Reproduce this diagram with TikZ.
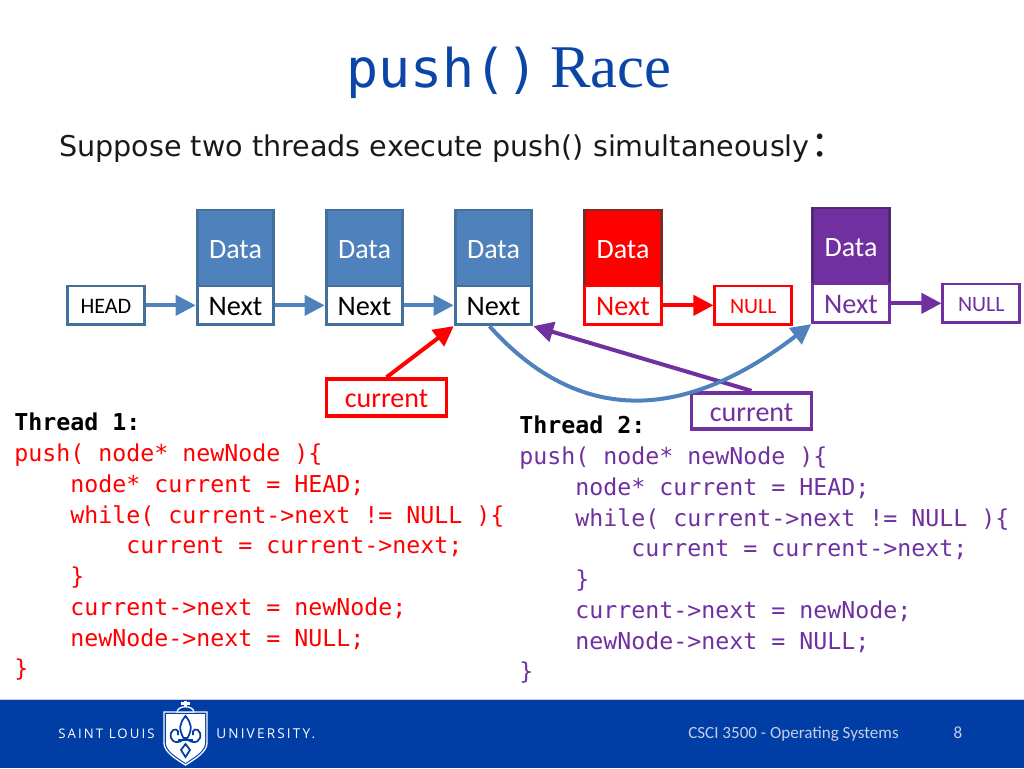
\documentclass[tikz,border=0pt]{standalone}
\usepackage{xcolor}
\usepackage{fontspec}
\usetikzlibrary{arrows.meta,positioning}
\setmainfont{Carlito}
\newfontfamily\codefont{DejaVu Sans Mono}
\newfontfamily\subfont{DejaVu Sans}
\newfontfamily\racefont{Liberation Serif}
\newfontfamily\logofont[LetterSpace=16]{Open Sans}
\definecolor{sluband}{HTML}{003DA5}
\definecolor{slutitle}{HTML}{0B46A6}
\definecolor{nodeblue}{HTML}{4F81BD}
\definecolor{edgeblue}{HTML}{41719C}
\definecolor{edgered}{HTML}{7A2A28}
\definecolor{nodepurple}{HTML}{7030A0}
\definecolor{edgepurple}{HTML}{4F2A78}
\definecolor{footgrey}{HTML}{C4CEE6}
\newcommand{\tab}{\hspace*{42pt}}
\tikzset{
  px/.style={x=0.75pt,y=-0.75pt},
  databox/.style={draw=#1,line width=2.2pt,outer sep=1.1pt,minimum width=57.5pt,minimum height=57pt,
    inner sep=0pt,text=white,text height=15.5pt,text depth=0pt,font=\fontsize{21}{23}\selectfont},
  nextbox/.style={draw=#1,fill=white,line width=2.2pt,outer sep=1.1pt,minimum width=57.5pt,minimum height=29pt,
    inner sep=0pt,text height=15.5pt,text depth=0pt,font=\fontsize{21.2}{23}\selectfont},
  nullbox/.style={draw=#1,fill=white,line width=2.2pt,outer sep=1.1pt,minimum width=57.5pt,minimum height=29pt,
    inner sep=0pt,text=#1,text height=12pt,text depth=0pt,font=\fontsize{16.4}{18}\selectfont},
  curbox/.style={draw=#1,fill=white,line width=2.8pt,outer sep=1.4pt,minimum width=90pt,minimum height=27.5pt,
    inner sep=0pt,text=#1,text height=15.5pt,text depth=0pt,font=\fontsize{21}{23}\selectfont},
  link/.style={draw=#1,line width=3pt,-{Triangle[length=15pt,width=15pt]}},
  code/.style={anchor=north west,inner sep=0pt,align=left,text=#1,
    font=\codefont\fontsize{17.45}{23.05}\selectfont},
}
\begin{document}
\begin{tikzpicture}[px]
  \useasboundingbox (0,0) rectangle (1024,768);
  \node[anchor=base west,inner sep=0pt,text=slutitle] (title) at (346,87)
    {\codefont\fontsize{40}{42}\selectfont push()};
  \node[anchor=base west,inner sep=0pt,text=slutitle] (race) at (550,87)
    {\racefont\fontsize{45.5}{47}\selectfont Race};
  \node[anchor=base west,inner sep=0pt,text=black!90] (sub) at (59,156)
    {\subfont\fontsize{21.45}{24}\selectfont Suppose two threads execute push() simultaneously};
  \node[anchor=base west,inner sep=0pt,text=black!90] (colon) at (813,156)
    {\racefont\fontsize{36}{38}\selectfont :};

  \node[databox=edgeblue,fill=nodeblue] (data1) at (235.5,248) {Data};
  \node[nextbox=edgeblue,below=-2.2pt of data1] (next1) {Next};
  \node[databox=edgeblue,fill=nodeblue] (data2) at (364.5,248) {Data};
  \node[nextbox=edgeblue,below=-2.2pt of data2] (next2) {Next};
  \node[databox=edgeblue,fill=nodeblue] (data3) at (493.5,248) {Data};
  \node[nextbox=edgeblue,below=-2.2pt of data3] (next3) {Next};
  \node[nextbox=edgeblue,text height=12pt,font=\fontsize{16.6}{18}\selectfont,left=37.5pt of next1] (head) {HEAD};

  \node[databox=edgered,fill=red] (data4) at (623,248) {Data};
  \node[nextbox=red,text=red,below=-2.2pt of data4] (next4) {Next};
  \node[nullbox=red,right=38pt of next4] (null4) {NULL};

  \node[databox=edgepurple,fill=nodepurple] (data5) at (851,246) {Data};
  \node[nextbox=nodepurple,text=nodepurple,below=-2.2pt of data5] (next5) {Next};
  \node[nullbox=nodepurple,right=38pt of next5] (null5) {NULL};

  \node[curbox=red] (curred) at (386.5,397.5) {current};
  \node[curbox=nodepurple] (curpurple) at (751.5,411) {current};

  \draw[link=nodeblue] (head) -- (next1);
  \draw[link=nodeblue] (next1) -- (next2);
  \draw[link=nodeblue] (next2) -- (next3);
  \draw[link=red] (next4) -- (null4);
  \draw[link=nodepurple] (next5) -- (null5);
  \draw[link=red] (curred.north) -- (next3.south west);
  \draw[link=nodepurple] (curpurple.north) -- (next3.south east);
  \draw[link=nodeblue] ([xshift=-3pt]next3.south) .. controls (560,405) and (660,440) .. (next5.south west);

  \node[code=red] (thread1) at (14,413) {\textcolor{black}{\bfseries Thread 1:}\\
    push( node* newNode )\{\\
    \tab node* current = HEAD;\\
    \tab while( current->next != NULL )\{\\
    \tab\tab current = current->next;\\
    \tab\}\\
    \tab current->next = newNode;\\
    \tab newNode->next = NULL;\\
    \}};
  \node[code=nodepurple] (thread2) at (519,416) {\textcolor{black}{\bfseries Thread 2:}\\
    push( node* newNode )\{\\
    \tab node* current = HEAD;\\
    \tab while( current->next != NULL )\{\\
    \tab\tab current = current->next;\\
    \tab\}\\
    \tab current->next = newNode;\\
    \tab newNode->next = NULL;\\
    \}};

  \fill[sluband] (0,700) rectangle (1024,768);
  \draw[footgrey,line width=0.8pt] (0,699.5) -- (1024,699.5);
  \node[anchor=west,inner sep=0pt,text=white] (saint) at (58,733.5)
    {\logofont\fontsize{9.9}{11}\selectfont SAINT LOUIS};
  \node[anchor=west,inner sep=0pt,text=white] (univ) at (216,733.5)
    {\logofont\fontsize{10.2}{11}\selectfont UNIVERSITY.};

  % shield
  \draw[white,line width=1pt,fill=sluband] (164,712) -- (207,712) -- (207,743)
    .. controls (207,752) and (195,759) .. (185.5,765)
    .. controls (176,759) and (164,752) .. (164,743) -- cycle;
  \fill[white] (166,714) -- (205,714) -- (205,743)
    .. controls (205,751) and (194,757) .. (185.5,763)
    .. controls (177,757) and (166,751) .. (166,743) -- cycle;
  \draw[white,line width=1pt,fill=sluband] (177,712) .. controls (178,705) and (193,705) .. (194,712) -- cycle;
  \draw[white,line width=1.6pt] (185.5,700.5) -- (185.5,707) (181,703.5) -- (190,703.5);
  \draw[sluband,line width=1.3pt] (185.5,716)
    .. controls (191,723) and (193,728) .. (187.5,738) -- (183.5,738)
    .. controls (178,728) and (180,723) .. (185.5,716) -- cycle;
  \draw[sluband,line width=1.3pt] (183,740) .. controls (175,745) and (169,740) .. (171,733)
    .. controls (173,727) and (180,729) .. (178,735);
  \draw[sluband,line width=1.3pt] (188,740) .. controls (196,745) and (202,740) .. (200,733)
    .. controls (198,727) and (191,729) .. (193,735);
  \draw[sluband,line width=1.3pt] (178,740) -- (193,740);
  \draw[sluband,line width=1.3pt] (185.5,744) -- (190,750) -- (185.5,757) -- (181,750) -- cycle;

  \node[anchor=base west,inner sep=0pt,text=footgrey] (course) at (688,738)
    {\fontsize{12.8}{14}\selectfont CSCI 3500 - Operating Systems};
  \node[anchor=base,inner sep=0pt,text=footgrey] (page) at (958,738)
    {\fontsize{12.8}{14}\selectfont 8};
\end{tikzpicture}
\end{document}
